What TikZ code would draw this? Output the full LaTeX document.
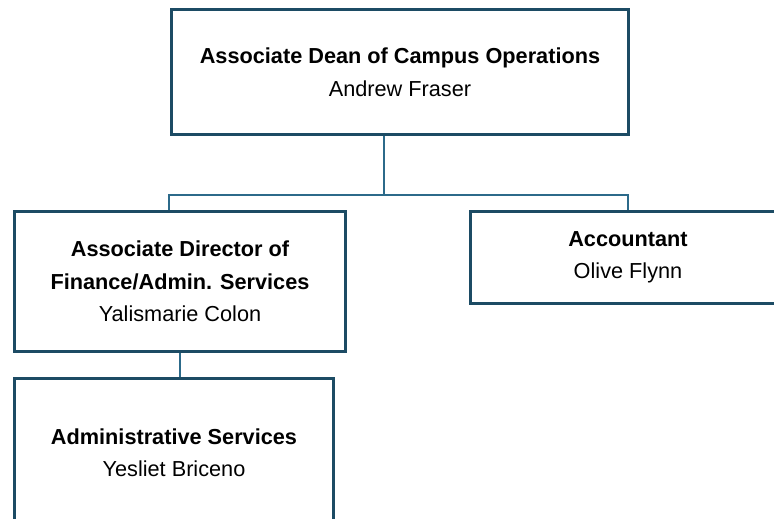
\documentclass[tikz,border=0pt]{standalone}
\usepackage{fontspec}
\setmainfont{Liberation Sans}
\usepackage{tikz}
\usetikzlibrary{positioning}

\definecolor{boxline}{HTML}{1C4B64}
\definecolor{linkline}{HTML}{2C6A8A}

\begin{document}
\begin{tikzpicture}[x=1pt, y=-1pt,
    orgbox/.style={draw=boxline, line width=3.4pt, fill=white, align=center,
        inner sep=0pt, font=\fontsize{21.7}{32.5}\selectfont},
    link/.style={draw=linkline, line width=2pt}]
    % Page
    \useasboundingbox (0,0) rectangle (774,519);
    \clip (0,0) rectangle (774,519);
    % Connectors
    \coordinate (bus) at (384,195);
    \coordinate (busleft) at (169,195);
    % Boxes
    \node[orgbox, minimum width=457pt, minimum height=125pt] (dean) at (400,72)
        {\textbf{Associate Dean of Campus Operations}\\Andrew Fraser};
    \node[orgbox, minimum width=331pt, minimum height=140pt] (finance) at (180,281.5)
        {\textbf{Associate Director of}\\\textbf{Finance/Admin. Services}\\Yalismarie Colon};
    \node[orgbox, minimum width=315pt, minimum height=92pt] (accountant) at (628,257.5)
        {\textbf{Accountant}\\Olive Flynn};
    \node[orgbox, minimum width=319pt, minimum height=148pt] (adminsvc) at (174,452.5)
        {\textbf{Administrative Services}\\Yesliet Briceno};
    % Lines between boxes
    \draw[link] (dean.south -| bus) -- (bus);
    \draw[link] (finance.north -| busleft) -- (busleft) -- (accountant.north |- bus) -- (accountant.north);
    \draw[link] (finance.south) -- (finance.south |- adminsvc.north);
\end{tikzpicture}
\end{document}
